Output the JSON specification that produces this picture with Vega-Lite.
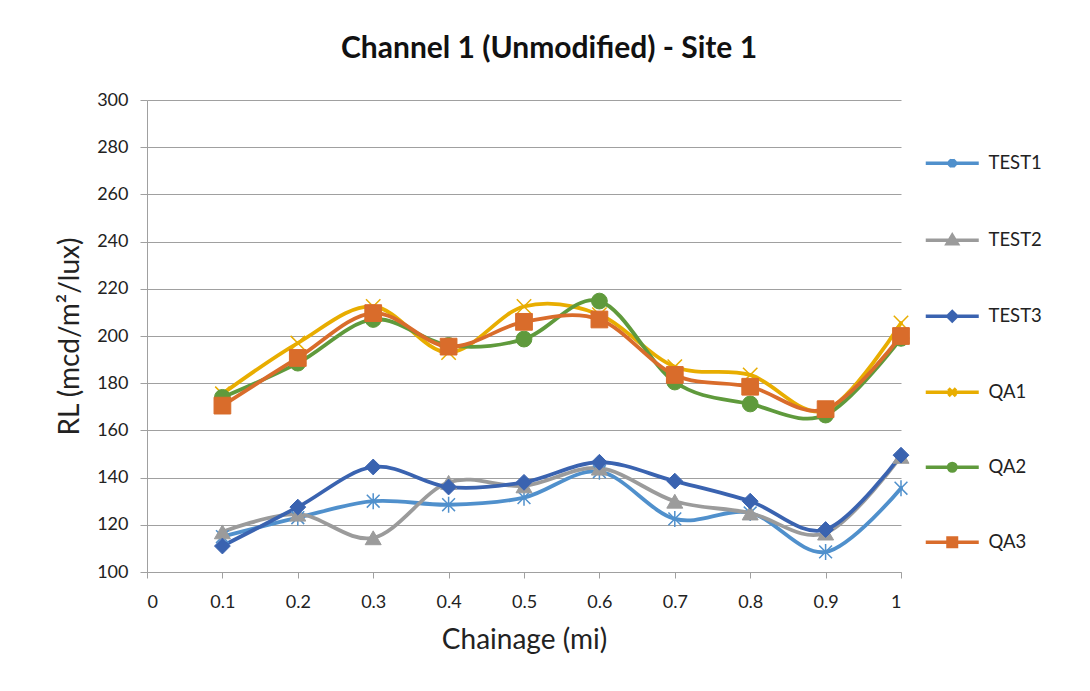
{
  "$schema": "https://vega.github.io/schema/vega-lite/v6.json",
  "autosize": {"type": "none"},
  "padding": {"left": 147, "top": 100, "right": 189, "bottom": 119},
  "width": 754,
  "height": 472,
  "background": "white",
  "title": {
    "text": "Channel 1 (Unmodified) - Site 1",
    "font": "Lato",
    "fontSize": 30,
    "fontWeight": "bold",
    "color": "#111111",
    "anchor": "middle",
    "dx": 25,
    "offset": 27
  },
  "data": {
    "values": [
      {"chainage": 0.1, "series": "TEST1", "rl": 115},
      {"chainage": 0.2, "series": "TEST1", "rl": 123},
      {"chainage": 0.3, "series": "TEST1", "rl": 130},
      {"chainage": 0.4, "series": "TEST1", "rl": 128.5},
      {"chainage": 0.5, "series": "TEST1", "rl": 131.5},
      {"chainage": 0.6, "series": "TEST1", "rl": 142.5},
      {"chainage": 0.7, "series": "TEST1", "rl": 122.5},
      {"chainage": 0.8, "series": "TEST1", "rl": 125},
      {"chainage": 0.9, "series": "TEST1", "rl": 108.5},
      {"chainage": 1.0, "series": "TEST1", "rl": 135.5},
      {"chainage": 0.1, "series": "TEST2", "rl": 117},
      {"chainage": 0.2, "series": "TEST2", "rl": 124.5},
      {"chainage": 0.3, "series": "TEST2", "rl": 114.5},
      {"chainage": 0.4, "series": "TEST2", "rl": 138},
      {"chainage": 0.5, "series": "TEST2", "rl": 136.5},
      {"chainage": 0.6, "series": "TEST2", "rl": 144},
      {"chainage": 0.7, "series": "TEST2", "rl": 130},
      {"chainage": 0.8, "series": "TEST2", "rl": 125},
      {"chainage": 0.9, "series": "TEST2", "rl": 116.5},
      {"chainage": 1.0, "series": "TEST2", "rl": 149},
      {"chainage": 0.1, "series": "TEST3", "rl": 111},
      {"chainage": 0.2, "series": "TEST3", "rl": 127.5},
      {"chainage": 0.3, "series": "TEST3", "rl": 144.5},
      {"chainage": 0.4, "series": "TEST3", "rl": 136},
      {"chainage": 0.5, "series": "TEST3", "rl": 138},
      {"chainage": 0.6, "series": "TEST3", "rl": 146.5},
      {"chainage": 0.7, "series": "TEST3", "rl": 138.5},
      {"chainage": 0.8, "series": "TEST3", "rl": 130},
      {"chainage": 0.9, "series": "TEST3", "rl": 118},
      {"chainage": 1.0, "series": "TEST3", "rl": 149.5},
      {"chainage": 0.1, "series": "QA1", "rl": 175.5},
      {"chainage": 0.2, "series": "QA1", "rl": 197},
      {"chainage": 0.3, "series": "QA1", "rl": 212.5},
      {"chainage": 0.4, "series": "QA1", "rl": 193},
      {"chainage": 0.5, "series": "QA1", "rl": 212.5},
      {"chainage": 0.6, "series": "QA1", "rl": 209},
      {"chainage": 0.7, "series": "QA1", "rl": 187},
      {"chainage": 0.8, "series": "QA1", "rl": 183.5},
      {"chainage": 0.9, "series": "QA1", "rl": 168.5},
      {"chainage": 1.0, "series": "QA1", "rl": 205.5},
      {"chainage": 0.1, "series": "QA2", "rl": 174},
      {"chainage": 0.2, "series": "QA2", "rl": 188.5},
      {"chainage": 0.3, "series": "QA2", "rl": 207},
      {"chainage": 0.4, "series": "QA2", "rl": 196},
      {"chainage": 0.5, "series": "QA2", "rl": 198.7},
      {"chainage": 0.6, "series": "QA2", "rl": 214.8},
      {"chainage": 0.7, "series": "QA2", "rl": 180.5},
      {"chainage": 0.8, "series": "QA2", "rl": 171.2},
      {"chainage": 0.9, "series": "QA2", "rl": 166.5},
      {"chainage": 1.0, "series": "QA2", "rl": 199},
      {"chainage": 0.1, "series": "QA3", "rl": 170.5},
      {"chainage": 0.2, "series": "QA3", "rl": 190.7},
      {"chainage": 0.3, "series": "QA3", "rl": 209.7},
      {"chainage": 0.4, "series": "QA3", "rl": 195.5},
      {"chainage": 0.5, "series": "QA3", "rl": 206},
      {"chainage": 0.6, "series": "QA3", "rl": 207},
      {"chainage": 0.7, "series": "QA3", "rl": 183.5},
      {"chainage": 0.8, "series": "QA3", "rl": 178.5},
      {"chainage": 0.9, "series": "QA3", "rl": 169},
      {"chainage": 1.0, "series": "QA3", "rl": 200}
    ]
  },
  "encoding": {
    "x": {
      "field": "chainage",
      "type": "quantitative",
      "scale": {"domain": [0, 1], "nice": false, "zero": false},
      "axis": {
        "title": "Chainage (mi)",
        "values": [0, 0.1, 0.2, 0.3, 0.4, 0.5, 0.6, 0.7, 0.8, 0.9, 1],
        "format": "~g",
        "grid": false,
        "tickSize": 6,
        "labelPadding": 15,
        "titlePadding": 15
      }
    },
    "y": {
      "field": "rl",
      "type": "quantitative",
      "scale": {"domain": [100, 300], "nice": false, "zero": false},
      "axis": {
        "title": "RL (mcd/m²/lux)",
        "values": [100, 120, 140, 160, 180, 200, 220, 240, 260, 280, 300],
        "grid": true,
        "tickSize": 7,
        "labelPadding": 12,
        "titlePadding": 12
      }
    }
  },
  "layer": [
    {
      "mark": {"type": "line", "interpolate": "cardinal", "strokeWidth": 3.8, "strokeCap": "round", "strokeJoin": "round"},
      "encoding": {
        "stroke": {
          "field": "series",
          "type": "nominal",
          "scale": {
            "domain": ["TEST1", "TEST2", "TEST3", "QA1", "QA2", "QA3"],
            "range": ["#5090cc", "#9b9b9b", "#3a63b0", "#e8ad00", "#5f9a3c", "#d96c2b"]
          }
        }
      }
    },
    {
      "mark": {"type": "point", "filled": true, "opacity": 0},
      "encoding": {
        "color": {
          "field": "series",
          "type": "nominal",
          "scale": {
            "domain": ["TEST1", "TEST2", "TEST3", "QA1", "QA2", "QA3"],
            "range": ["#5090cc", "#9b9b9b", "#3a63b0", "#e8ad00", "#5f9a3c", "#d96c2b"]
          },
          "legend": {
            "title": null,
            "orient": "none",
            "legendX": 796,
            "legendY": 54,
            "direction": "vertical",
            "columns": 1,
            "padding": 0,
            "symbolSize": 100,
            "symbolStrokeWidth": 3.5,
            "symbolOpacity": 1,
            "labelOffset": 27,
            "labelFont": "Lato",
            "labelFontSize": 18.5,
            "labelColor": "#222222",
            "rowPadding": 53
          }
        },
        "stroke": {
          "field": "series",
          "type": "nominal"
        },
        "shape": {
          "field": "series",
          "type": "nominal",
          "scale": {
            "domain": ["TEST1", "TEST2", "TEST3", "QA1", "QA2", "QA3"],
            "range": [
              "M-5.3,0L5.3,0M0,-0.85L0,0.85M-0.65,-0.65L0.65,0.65M-0.65,0.65L0.65,-0.65",
              "M-5.3,0L5.3,0M0,-0.95L1.0,0.7L-1.0,0.7ZM0,-0.3L0.4,0.4L-0.4,0.4Z",
              "M-5.3,0L5.3,0M0,-0.9L0.9,0L0,0.9L-0.9,0ZM0,-0.4L0.4,0L0,0.4L-0.4,0Z",
              "M-5.3,0L5.3,0M-0.75,-0.75L0.75,0.75M-0.75,0.75L0.75,-0.75",
              "M-5.3,0L5.3,0M-0.75,0A0.75,0.75 0 1,0 0.75,0A0.75,0.75 0 1,0 -0.75,0ZM-0.3,0A0.3,0.3 0 1,0 0.3,0A0.3,0.3 0 1,0 -0.3,0Z",
              "M-5.3,0L5.3,0M-0.85,-0.85L0.85,-0.85L0.85,0.85L-0.85,0.85ZM-0.4,-0.4L0.4,-0.4L0.4,0.4L-0.4,0.4Z"
            ]
          }
        }
      }
    },
    {
      "transform": [{"filter": {"field": "series", "equal": "TEST1"}}],
      "mark": {"type": "point", "shape": "M0,-1L0,1M-0.8,-0.8L0.8,0.8M-0.8,0.8L0.8,-0.8", "size": 256, "filled": false, "stroke": "#5090cc", "strokeWidth": 1.5, "opacity": 1}
    },
    {
      "transform": [{"filter": {"field": "series", "equal": "TEST2"}}],
      "mark": {"type": "point", "shape": "triangle-up", "size": 256, "filled": true, "fill": "#9b9b9b", "stroke": "#9b9b9b", "strokeWidth": 1, "opacity": 1}
    },
    {
      "transform": [{"filter": {"field": "series", "equal": "TEST3"}}],
      "mark": {"type": "point", "shape": "diamond", "size": 250, "filled": true, "fill": "#3a63b0", "stroke": "#3a63b0", "strokeWidth": 1, "opacity": 1}
    },
    {
      "transform": [{"filter": {"field": "series", "equal": "QA1"}}],
      "mark": {"type": "point", "shape": "M-0.9,-0.9L0.9,0.9M-0.9,0.9L0.9,-0.9", "size": 256, "filled": false, "stroke": "#e8ad00", "strokeWidth": 1.5, "opacity": 1}
    },
    {
      "transform": [{"filter": {"field": "series", "equal": "QA2"}}],
      "mark": {"type": "point", "shape": "circle", "size": 250, "filled": true, "fill": "#5f9a3c", "stroke": "#5f9a3c", "strokeWidth": 1, "opacity": 1}
    },
    {
      "transform": [{"filter": {"field": "series", "equal": "QA3"}}],
      "mark": {"type": "point", "shape": "square", "size": 280, "filled": true, "fill": "#d96c2b", "stroke": "#d96c2b", "strokeWidth": 1, "opacity": 1}
    }
  ],
  "config": {
    "view": {"stroke": null},
    "font": "Lato",
    "axis": {
      "labelFont": "Lato",
      "labelFontSize": 18,
      "labelColor": "#222222",
      "titleFont": "Lato",
      "titleFontSize": 28,
      "titleFontWeight": "normal",
      "titleColor": "#222222",
      "domainColor": "#a0a0a0",
      "domainWidth": 1,
      "tickColor": "#a0a0a0",
      "tickWidth": 1,
      "gridColor": "#a0a0a0",
      "gridWidth": 1
    }
  }
}
